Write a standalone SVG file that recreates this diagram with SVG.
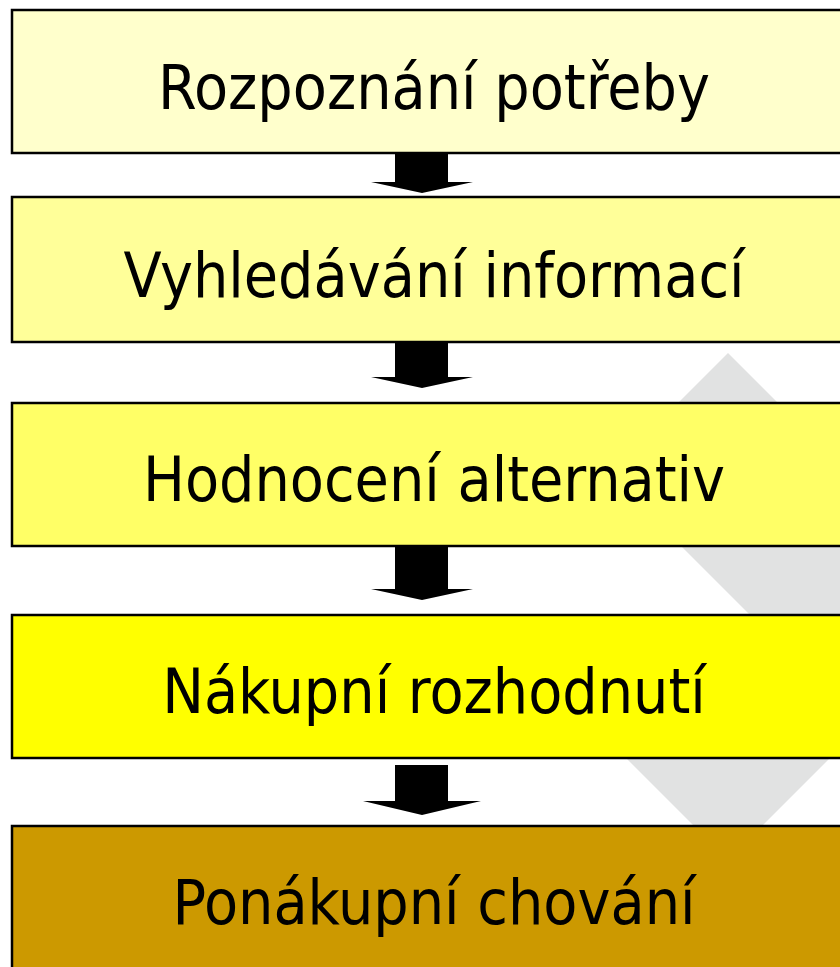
<svg xmlns="http://www.w3.org/2000/svg" width="840" height="967" viewBox="0 0 840 967">
<style>
.box{stroke:#000;stroke-width:2.5}
.lbl{font-family:"DejaVu Sans Condensed","DejaVu Sans",sans-serif;font-stretch:condensed;font-size:62px;fill:#000;text-anchor:middle}
.arr{fill:#000}
</style>
<rect width="840" height="967" fill="#fff"/>
<polygon id="bg" points="728,353 900,525 900,688 728,860 608,740 755,620 675,540 671,410" fill="#e1e2e2"/>
<g id="n1"><rect class="box" x="12" y="10" width="850" height="143" fill="#ffffcc"/><text class="lbl" x="434" y="109">Rozpoznání potřeby</text></g>
<g id="n2"><rect class="box" x="12" y="197" width="850" height="145" fill="#ffff99"/><text class="lbl" x="434" y="297">Vyhledávání informací</text></g>
<g id="n3"><rect class="box" x="12" y="403" width="850" height="143" fill="#ffff66"/><text class="lbl" x="434" y="501">Hodnocení alternativ</text></g>
<g id="n4"><rect class="box" x="12" y="615" width="850" height="143" fill="#ffff00"/><text class="lbl" x="434" y="713">Nákupní rozhodnutí</text></g>
<g id="n5"><rect class="box" x="12" y="826" width="850" height="160" fill="#cc9900"/><text class="lbl" x="434" y="924">Ponákupní chování</text></g>
<g id="connectors">
<polygon class="arr" points="395,154 448,154 448,182 473,182 422,193 371,182 395,182"/>
<polygon class="arr" points="395,343 448,343 448,377 473,377 422,388 371,377 395,377"/>
<polygon class="arr" points="395,547 448,547 448,589 473,589 422,600 371,589 395,589"/>
<polygon class="arr" points="395,765 448,765 448,801 481,801 422,815 363,801 395,801"/>
</g>
</svg>
